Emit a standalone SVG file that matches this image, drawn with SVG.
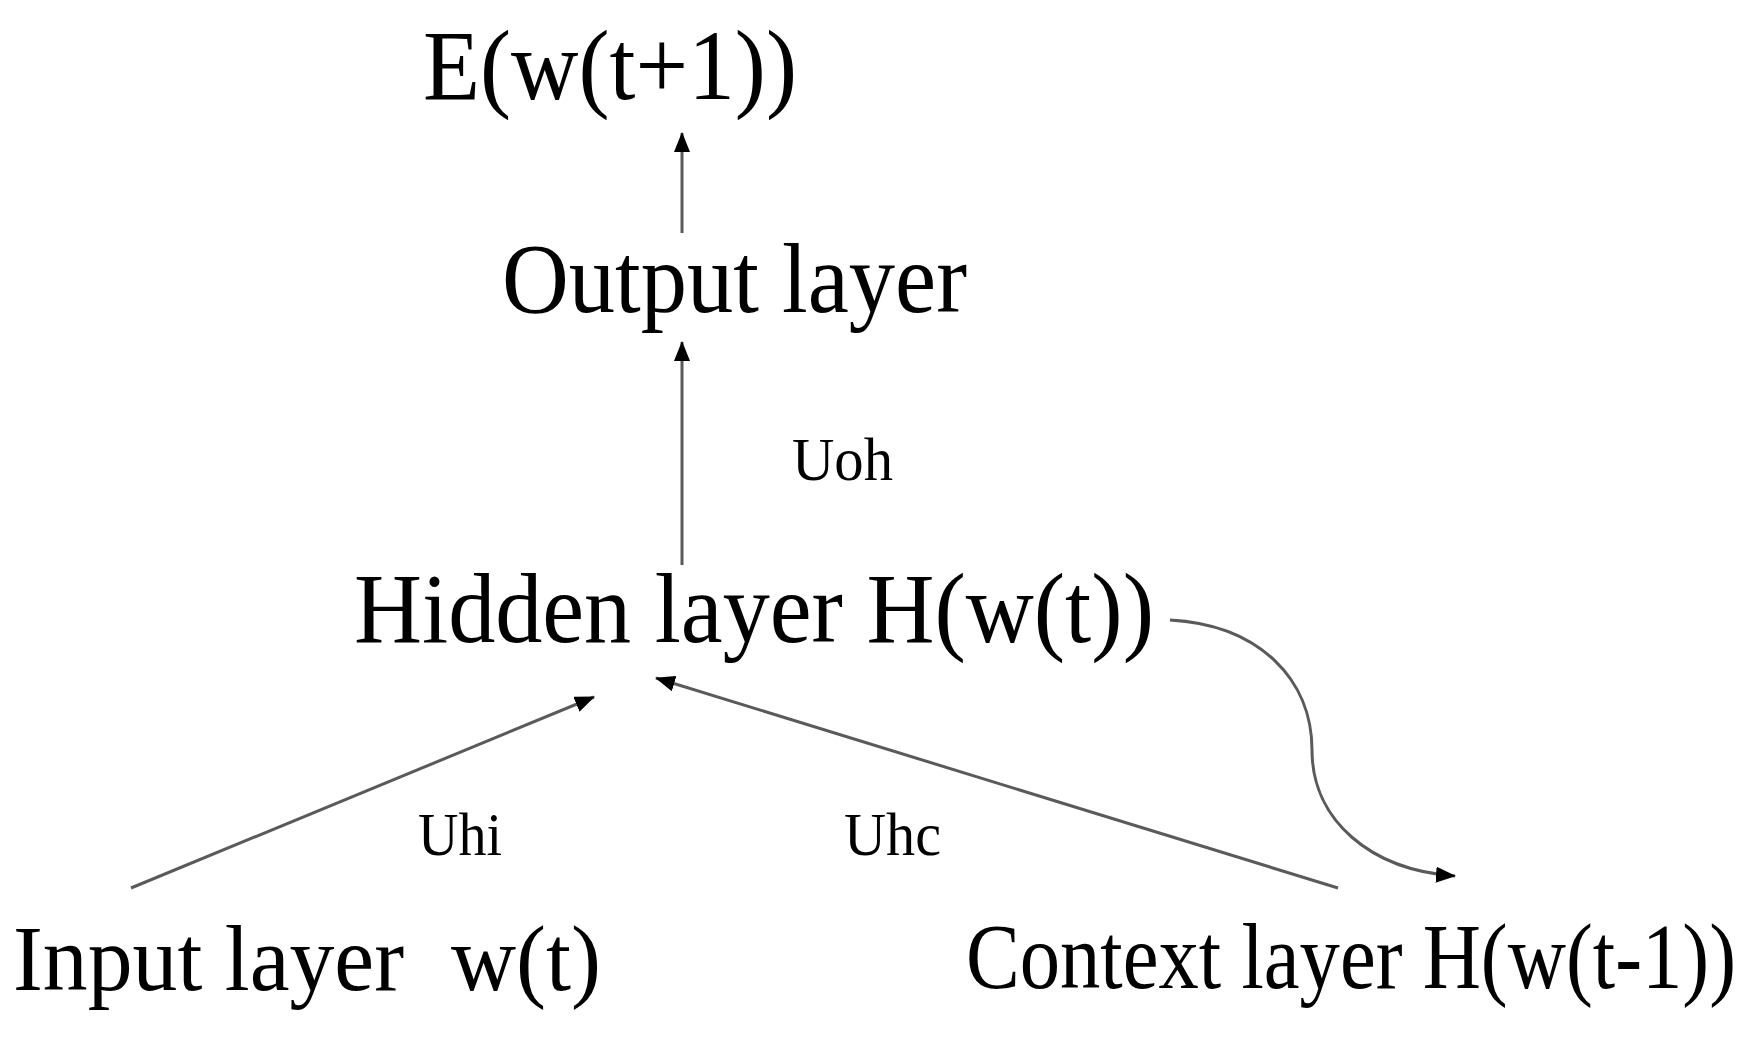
<svg xmlns="http://www.w3.org/2000/svg" width="1757" height="1045" viewBox="0 0 1757 1045">
<style>
.t{font-family:"Liberation Serif","Times New Roman",serif;fill:#000;}
.big{font-size:99px;}
.mid{font-size:94px;}
.lab{font-size:62px;}
.c{fill:none;stroke:#5a5a5a;stroke-width:3;}
</style>
<defs>
<marker id="ah" markerUnits="userSpaceOnUse" markerWidth="20" markerHeight="16" refX="19" refY="8" orient="auto">
<path d="M0,0 L20,8 L0,16 z" fill="#000"/>
</marker>
</defs>
<rect width="1757" height="1045" fill="#fff"/>
<g id="connectors">
<line class="c" x1="682" y1="233" x2="682" y2="133" marker-end="url(#ah)"/>
<line class="c" x1="682" y1="565" x2="682" y2="342" marker-end="url(#ah)"/>
<line class="c" x1="131" y1="888" x2="594" y2="697" marker-end="url(#ah)"/>
<line class="c" x1="1338" y1="888" x2="656" y2="678" marker-end="url(#ah)"/>
<path class="c" d="M1170,620 C1260,625 1312,680 1312,750 C1312,820 1370,870 1455,876" marker-end="url(#ah)"/>
</g>
<g id="target"><text class="t big" x="423" y="99" textLength="374" lengthAdjust="spacingAndGlyphs">E(w(t+1))</text></g>
<g id="output"><text class="t big" x="502" y="312" textLength="465" lengthAdjust="spacingAndGlyphs">Output layer</text></g>
<g id="hidden"><text class="t big" x="354" y="642" textLength="800" lengthAdjust="spacingAndGlyphs">Hidden layer H(w(t))</text></g>
<g id="input"><text class="t mid" y="990"><tspan x="13" textLength="391" lengthAdjust="spacingAndGlyphs">Input layer</tspan><tspan x="451" textLength="150" lengthAdjust="spacingAndGlyphs">w(t)</tspan></text></g>
<g id="context"><text class="t mid" x="966" y="988" textLength="770" lengthAdjust="spacingAndGlyphs">Context layer H(w(t-1))</text></g>
<g id="labels">
<text class="t lab" x="792" y="480" textLength="101" lengthAdjust="spacingAndGlyphs">Uoh</text>
<text class="t lab" x="418" y="855" textLength="84" lengthAdjust="spacingAndGlyphs">Uhi</text>
<text class="t lab" x="844" y="855" textLength="97" lengthAdjust="spacingAndGlyphs">Uhc</text>
</g>
</svg>
